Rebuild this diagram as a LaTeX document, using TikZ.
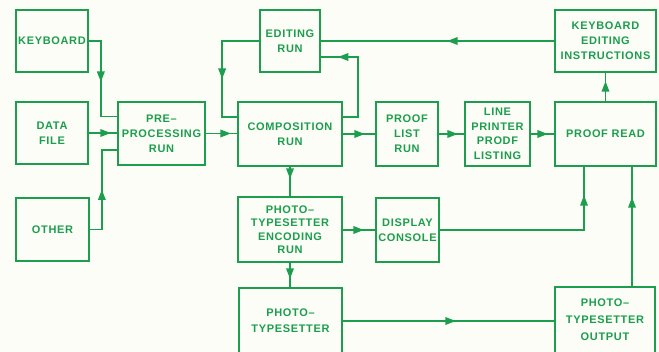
\documentclass[tikz,border=0pt]{standalone}
\usepackage{fontspec}
\newfontfamily\diagfont[LetterSpace=6]{Liberation Sans}
\usetikzlibrary{arrows.meta,decorations.markings}
\definecolor{ink}{RGB}{28,158,78}
\definecolor{paper}{RGB}{252,253,246}
\tikzset{
  box/.style={draw=ink, line width=1.7pt, rectangle, inner sep=0pt, align=center,
    text=ink, font=\diagfont\bfseries\fontsize{11}{15}\selectfont},
  conn/.style={draw=ink, line width=1.7pt, postaction={decorate},
    decoration={markings, mark=at position #1 with {\arrow[ink]{Triangle[length=10.5pt,width=7.5pt]}}}},
}
\begin{document}
\begin{tikzpicture}[x=1pt,y=-1pt]
\useasboundingbox (0,0) rectangle (659,352);
\fill[paper] (0,0) rectangle (659,352);
\clip (0,0) rectangle (659,352);
% boxes
\node[box, minimum width=72pt, minimum height=62pt] (kb) at (52,41) {KEYBOARD};
\node[box, minimum width=72pt, minimum height=62pt] (df) at (52,133) {DATA\\FILE};
\node[box, minimum width=73pt, minimum height=63pt] (ot) at (52.5,229.5) {OTHER};
\node[box, minimum width=87pt, minimum height=63pt] (pp) at (161.5,133.5) {PRE–\\PROCESSING\\RUN};
\node[box, minimum width=104pt, minimum height=64pt] (cr) at (290,134) {COMPOSITION\\RUN};
\node[box, minimum width=60pt, minimum height=62pt] (er) at (290,41) {EDITING\\RUN};
\node[box, minimum width=62pt, minimum height=64pt] (pl) at (407,134) {PROOF\\LIST\\RUN};
\node[box, minimum width=65pt, minimum height=64pt, font=\diagfont\bfseries\fontsize{11}{14.5}\selectfont] (lp) at (497.5,134) {LINE\\PRINTER\\PRODF\\LISTING};
\node[box, minimum width=101pt, minimum height=64pt] (prd) at (605.5,134) {PROOF READ};
\node[box, minimum width=101pt, minimum height=62pt] (kei) at (605.5,41) {KEYBOARD\\EDITING\\INSTRUCTIONS};
\node[box, minimum width=104pt, minimum height=65pt, font=\diagfont\bfseries\fontsize{11}{13.5}\selectfont] (enc) at (290,229.5) {PHOTO–\\TYPESETTER\\ENCODING\\RUN};
\node[box, minimum width=63pt, minimum height=64pt] (dc) at (407.5,230) {DISPLAY\\CONSOLE};
\node[box, minimum width=103pt, minimum height=66pt, font=\diagfont\bfseries\fontsize{11}{16}\selectfont] (pt) at (290.5,321) {PHOTO–\\TYPESETTER};
\node[box, minimum width=100pt, minimum height=66pt, font=\diagfont\bfseries\fontsize{11}{17}\selectfont] (pto) at (605,320) {PHOTO–\\TYPESETTER\\OUTPUT};
% connectors
\draw[conn=53pt] (kb.east) -- ++(12,0) |- ([yshift=17pt]pp.west);
\draw[conn=22pt] (df.east) -- (pp.west |- df.east);
\draw[conn=52pt] (ot.east) -- ++(12,0) |- ([yshift=-16.5pt]pp.west);
\draw[conn=25pt] (pp.east) -- (cr.west |- pp.east);
\draw[conn=22pt] (cr.east) -- (pl.west);
\draw[conn=19pt] (pl.east) -- (lp.west);
\draw[conn=17pt] (lp.east) -- (prd.west);
\draw[conn=20pt] (prd.north) -- (kei.south);
\draw[conn=107pt] (kei.west) -- (er.east);
\draw[conn=95pt] ([yshift=17pt]cr.east) -- ++(15,0) |- ([yshift=-16pt]er.east);
\draw[conn=75pt] (er.west) -- ++(-37,0) |- ([yshift=17pt]cr.west);
\draw[conn=12pt] (cr.south) -- (enc.north);
\draw[conn=16pt] (enc.south) -- (pt.north -| enc.south);
\draw[conn=21pt] (enc.east |- dc.west) -- (dc.west);
\draw[conn=179pt] (dc.east) -| ([xshift=-21.5pt]prd.south);
\draw[conn=113pt] (pt.east) -- (pto.west |- pt.east);
\draw[conn=89pt] ([xshift=27pt]pto.north) -- ([xshift=26.5pt]prd.south);
\end{tikzpicture}
\end{document}
